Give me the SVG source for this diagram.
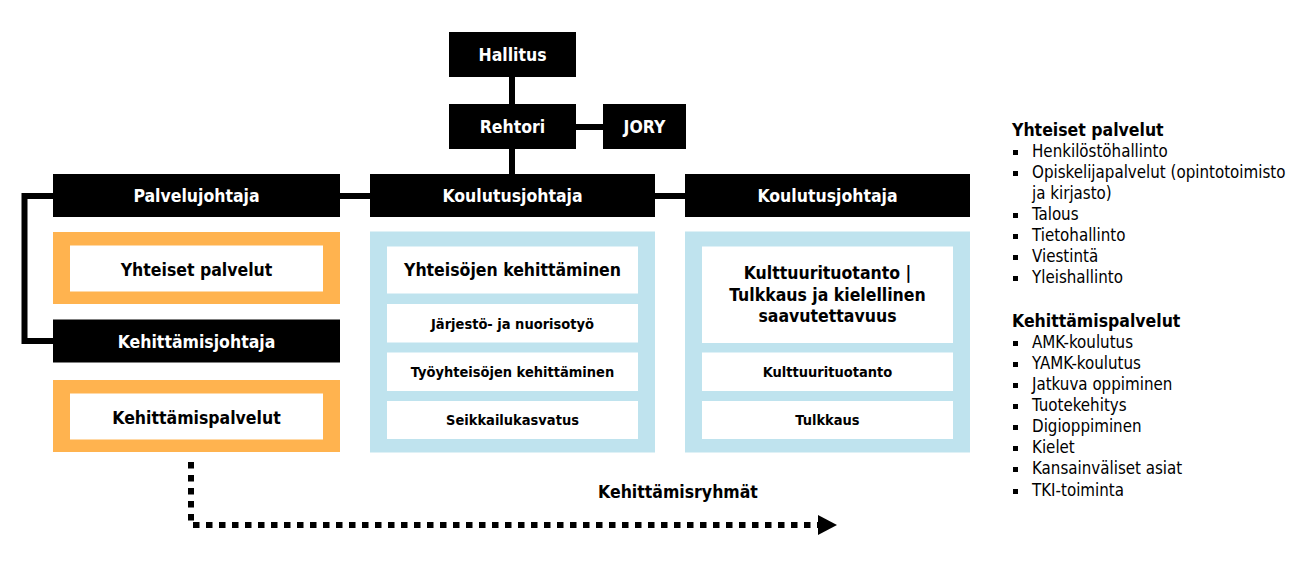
<svg xmlns="http://www.w3.org/2000/svg" width="1293" height="565" viewBox="0 0 1293 565">
<defs>
<style>
.blk{fill:#000}
.wt{fill:#fff}
.org{fill:#FFB34F}
.blu{fill:#BFE3EE}
.hd{font-family:"DejaVu Sans Condensed","DejaVu Sans",sans-serif;font-weight:bold;font-size:17.5px;fill:#fff;text-anchor:middle}
.bt{font-family:"DejaVu Sans Condensed","DejaVu Sans",sans-serif;font-weight:bold;font-size:17.5px;fill:#000;text-anchor:middle}
.st{font-family:"DejaVu Sans Condensed","DejaVu Sans",sans-serif;font-weight:bold;font-size:14.5px;fill:#000;text-anchor:middle}
.lt{font-family:"DejaVu Sans Condensed","DejaVu Sans",sans-serif;font-size:16.8px;fill:#000}
.lh{font-family:"DejaVu Sans Condensed","DejaVu Sans",sans-serif;font-weight:bold;font-size:17.5px;fill:#000}
.ln{fill:none;stroke:#000;stroke-width:6}
.dot{fill:none;stroke:#000;stroke-width:6;stroke-dasharray:6.5 6.5}
</style>
<marker id="ah" markerWidth="20" markerHeight="20" refX="0" refY="10" orient="auto" markerUnits="userSpaceOnUse">
<path d="M0,0 L19,10 L0,20 Z" fill="#000"/>
</marker>
</defs>
<rect width="1293" height="565" fill="#fff"/>

<g id="connectors">
<line class="ln" x1="512" y1="77" x2="512" y2="105"/>
<line class="ln" x1="576" y1="127" x2="603" y2="127"/>
<line class="ln" x1="512" y1="149" x2="512" y2="174"/>
<line class="ln" x1="340" y1="196" x2="370" y2="196"/>
<line class="ln" x1="655" y1="196" x2="685" y2="196"/>
<polyline class="ln" points="53,196 24.5,196 24.5,341 53,341"/>
<polyline class="dot" points="191,462 191,525 818,525" marker-end="url(#ah)"/>
</g>

<g id="hallitus"><rect class="blk" x="449" y="32" width="127" height="45"/><text class="hd" x="512.5" y="61">Hallitus</text></g>
<g id="rehtori"><rect class="blk" x="449" y="104" width="127" height="45"/><text class="hd" x="512.5" y="133">Rehtori</text></g>
<g id="jory"><rect class="blk" x="603" y="104" width="83" height="45"/><text class="hd" x="644.5" y="133">JORY</text></g>

<g id="palvelujohtaja"><rect class="blk" x="53" y="174" width="287" height="43"/><text class="hd" x="196.5" y="202">Palvelujohtaja</text></g>
<g id="koulutusjohtaja1"><rect class="blk" x="370" y="174" width="285" height="43"/><text class="hd" x="512.5" y="202">Koulutusjohtaja</text></g>
<g id="koulutusjohtaja2"><rect class="blk" x="685" y="174" width="285" height="43"/><text class="hd" x="827.5" y="202">Koulutusjohtaja</text></g>

<g id="yhteiset-palvelut"><rect class="org" x="53" y="232" width="287" height="72"/><rect class="wt" x="70" y="245.5" width="253" height="46"/><text class="bt" x="196.5" y="276">Yhteiset palvelut</text></g>
<g id="kehittamisjohtaja"><rect class="blk" x="53" y="319.5" width="287" height="43"/><text class="hd" x="196.5" y="348">Kehittämisjohtaja</text></g>
<g id="kehittamispalvelut"><rect class="org" x="53" y="380" width="287" height="72"/><rect class="wt" x="70" y="393.5" width="253" height="46"/><text class="bt" x="196.5" y="424">Kehittämispalvelut</text></g>

<g id="yhteisojen-kehittaminen">
<rect class="blu" x="370" y="231.5" width="285" height="221"/>
<rect class="wt" x="387" y="246.5" width="251" height="47"/><text class="bt" x="512.5" y="276">Yhteisöjen kehittäminen</text>
<rect class="wt" x="387" y="304" width="251" height="38.5"/><text class="st" x="512.5" y="328.5">Järjestö- ja nuorisotyö</text>
<rect class="wt" x="387" y="352.5" width="251" height="38.5"/><text class="st" x="512.5" y="376.5">Työyhteisöjen kehittäminen</text>
<rect class="wt" x="387" y="401" width="251" height="38"/><text class="st" x="512.5" y="425">Seikkailukasvatus</text>
</g>

<g id="kulttuurituotanto-tulkkaus">
<rect class="blu" x="685" y="231.5" width="285" height="221"/>
<rect class="wt" x="702" y="246.5" width="251" height="96.5"/>
<text class="bt" x="827.5" y="279">Kulttuurituotanto |</text>
<text class="bt" x="827.5" y="300.5">Tulkkaus ja kielellinen</text>
<text class="bt" x="827.5" y="322">saavutettavuus</text>
<rect class="wt" x="702" y="352.5" width="251" height="38.5"/><text class="st" x="827.5" y="377">Kulttuurituotanto</text>
<rect class="wt" x="702" y="401" width="251" height="38"/><text class="st" x="827.5" y="425">Tulkkaus</text>
</g>

<g id="kehittamisryhmat"><text class="bt" x="678" y="498">Kehittämisryhmät</text></g>

<g id="legend">
<text class="lh" x="1012" y="136">Yhteiset palvelut</text>
<g fill="#000">
<rect x="1013" y="150" width="5" height="5"/>
<rect x="1013" y="171" width="5" height="5"/>
<rect x="1013" y="213" width="5" height="5"/>
<rect x="1013" y="234" width="5" height="5"/>
<rect x="1013" y="255" width="5" height="5"/>
<rect x="1013" y="276" width="5" height="5"/>
<rect x="1013" y="341" width="5" height="5"/>
<rect x="1013" y="362" width="5" height="5"/>
<rect x="1013" y="383" width="5" height="5"/>
<rect x="1013" y="404" width="5" height="5"/>
<rect x="1013" y="425" width="5" height="5"/>
<rect x="1013" y="446" width="5" height="5"/>
<rect x="1013" y="467" width="5" height="5"/>
<rect x="1013" y="489" width="5" height="5"/>
</g>
<text class="lt" x="1032" y="157">Henkilöstöhallinto</text>
<text class="lt" x="1032" y="178">Opiskelijapalvelut (opintotoimisto</text>
<text class="lt" x="1032" y="199">ja kirjasto)</text>
<text class="lt" x="1032" y="220">Talous</text>
<text class="lt" x="1032" y="241">Tietohallinto</text>
<text class="lt" x="1032" y="262">Viestintä</text>
<text class="lt" x="1032" y="283">Yleishallinto</text>
<text class="lh" x="1012" y="327">Kehittämispalvelut</text>
<text class="lt" x="1032" y="348">AMK-koulutus</text>
<text class="lt" x="1032" y="369">YAMK-koulutus</text>
<text class="lt" x="1032" y="390">Jatkuva oppiminen</text>
<text class="lt" x="1032" y="411">Tuotekehitys</text>
<text class="lt" x="1032" y="432">Digioppiminen</text>
<text class="lt" x="1032" y="453">Kielet</text>
<text class="lt" x="1032" y="474">Kansainväliset asiat</text>
<text class="lt" x="1032" y="496">TKI-toiminta</text>
</g>
</svg>
